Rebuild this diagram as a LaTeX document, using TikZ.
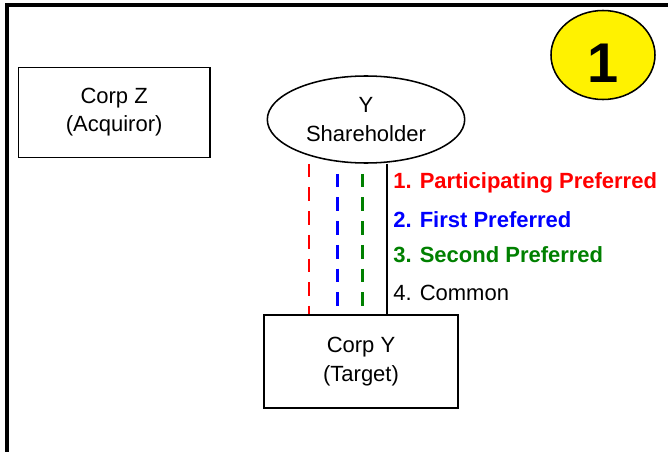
\documentclass[tikz,border=0pt]{standalone}
\usepackage{fontspec}
\setmainfont{Liberation Sans}
\usetikzlibrary{shapes.geometric}
\definecolor{darkgreen}{RGB}{0,128,0}

\begin{document}
\begin{tikzpicture}[
		every node/.style={font=\fontsize{15.65}{20.3}\selectfont},
		corp/.style={draw,line width=1.1pt,align=center,inner sep=0},
		holder/.style={draw,ellipse,line width=1.1pt,align=center,inner sep=0},
		pref/.style={line width=2.1pt,dash pattern=on 9.75pt off 7.1pt},
		stock/.style={anchor=base west,inner sep=0,font=\fontsize{15.65}{20.3}\selectfont\bfseries}
	]
		\useasboundingbox (0,0) rectangle (16.7,11.275);
		\draw[line width=2.85pt] (0.18,-0.2) |- (16.9,11.1425);
		
		\node[corp,minimum width=4.79cm,minimum height=2.25cm] (zcorp) at (2.854,8.4675) {Corp Z\\(Acquiror)};
		\node[holder,minimum width=4.935cm,minimum height=2.175cm] (shareholder) at (9.15,8.2875) {Y\\Shareholder};
		\node[corp,minimum width=4.85cm,minimum height=2.325cm] (ycorp) at (9.025,2.2375) {Corp Y\\(Target)};
		\node[holder,fill=yellow,minimum width=2.6cm,minimum height=2.225cm,text height=1.36cm,font=\fontsize{39.8}{40}\selectfont\bfseries] (badge) at (15.075,9.9) {1};
		
		\coordinate (redtop) at ([xshift=-1.425cm]shareholder.south);
		\coordinate (bluetop) at ([xshift=-0.7175cm]shareholder.south);
		\coordinate (greentop) at ([xshift=-0.0925cm]shareholder.south);
		\coordinate (commontop) at ([xshift=0.5325cm]shareholder.south);
		\draw[pref,red] (redtop) -- (redtop |- ycorp.north);
		\draw[pref,blue,dash phase=9.75pt] (bluetop) -- (bluetop |- ycorp.north);
		\draw[pref,darkgreen,dash phase=9.75pt] (greentop) -- (greentop |- ycorp.north);
		\draw[line width=1.2pt] (commontop) -- (commontop |- ycorp.north);
		
		\node[stock,text=red] (partpref) at (9.825,6.5575) {1. Participating Preferred};
		\node[stock,text=blue] (firstpref) at (9.825,5.5925) {2. First Preferred};
		\node[stock,text=darkgreen] (secondpref) at (9.825,4.7175) {3. Second Preferred};
		\node[anchor=base west,inner sep=0] (common) at (9.825,3.7575) {4. Common};
	\end{tikzpicture}
\end{document}
